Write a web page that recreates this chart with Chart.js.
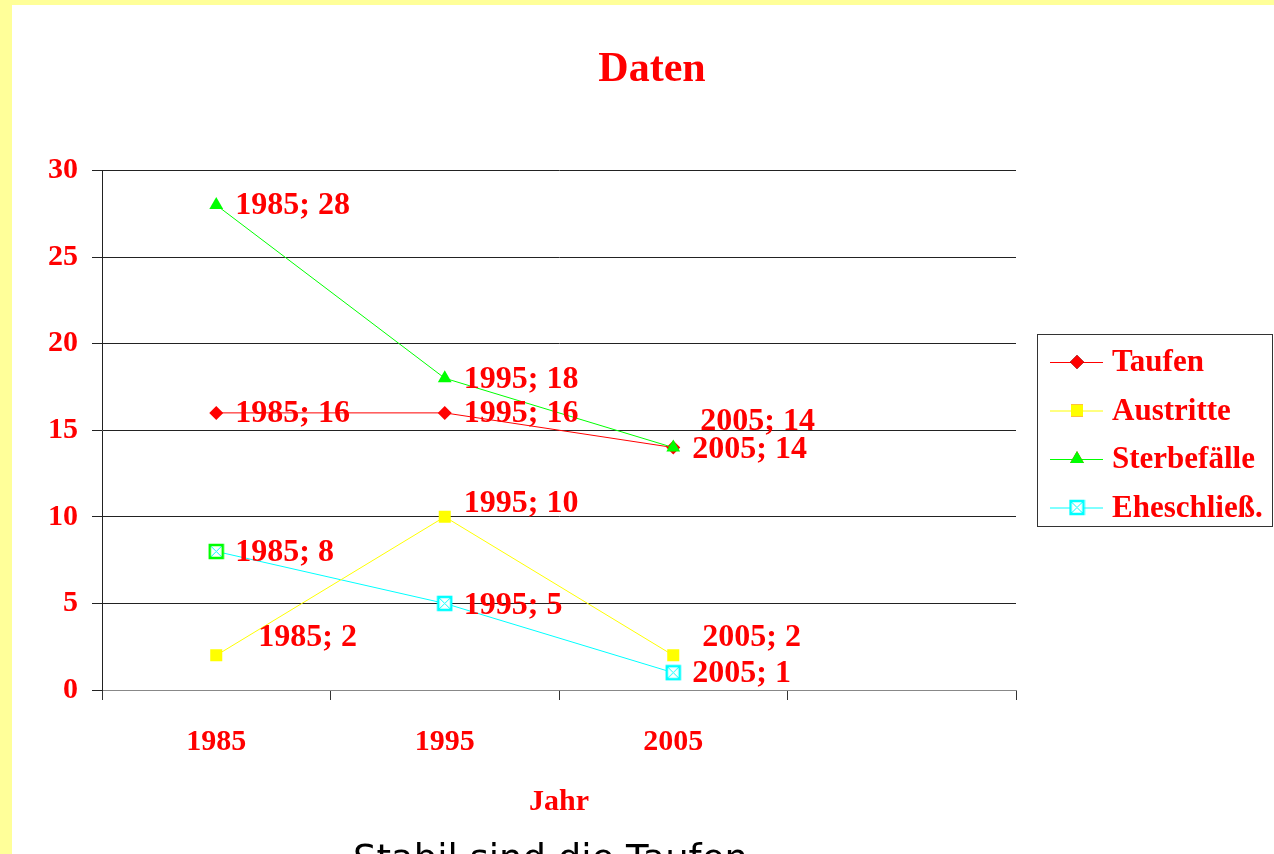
<!DOCTYPE html>
<html lang="de">
<head>
  <meta charset="UTF-8">
  <title>Daten</title>
  <script src="https://cdn.jsdelivr.net/npm/chart.js"></script>
  <style>
    html, body { margin: 0; padding: 0; }
    body { background: #FFFF99; width: 1274px; height: 854px; overflow: hidden; position: relative; }
    #sheet { position: absolute; left: 12px; top: 5px; width: 1262px; height: 849px; background: #fff; }
    #caption {
      position: absolute; left: 353px; top: 840px;
      font-family: 'DejaVu Sans', sans-serif; font-size: 37px; line-height: 37px;
      color: #000; white-space: nowrap;
    }
  </style>
</head>
<body>
  <div id="sheet"><canvas id="chart" width="1262" height="849"></canvas></div>
  <div id="caption">Stabil sind die Taufen</div>

  <script>
    // data
    const years = ['1985', '1995', '2005', ''];
    const taufen = [16, 16, 14];
    const austritte = [2, 10, 2];
    const sterbefaelle = [28, 18, 14];
    const eheschliessungen = [8, 5, 1];
    const yTicks = [0, 5, 10, 15, 20, 25, 30];

    const RED = '#FF0000';
    const serif = "'Liberation Serif', 'Times New Roman', serif";

    // boxed cross marker for Eheschließ.
    function boxMarker(border) {
      const c = document.createElement('canvas');
      c.width = 17; c.height = 17;
      const g = c.getContext('2d');
      g.fillStyle = '#fff';
      g.fillRect(1, 1, 15, 15);
      g.strokeStyle = '#00FFFF';
      g.lineWidth = 1;
      g.beginPath();
      g.moveTo(3, 3); g.lineTo(14, 14);
      g.moveTo(14, 3); g.lineTo(3, 14);
      g.stroke();
      g.strokeStyle = border;
      g.lineWidth = 2.5;
      g.strokeRect(2, 2, 13, 13);
      return c;
    }
    const cyanBox = boxMarker('#00FFFF');
    const greenBox = boxMarker('#00FF00');

    // data labels "Jahr; Wert"
    const valueLabels = {
      id: 'valueLabels',
      afterDatasetsDraw(chart) {
        const ctx = chart.ctx;
        ctx.save();
        ctx.font = 'bold 32px ' + serif;
        ctx.fillStyle = RED;
        ctx.textAlign = 'left';
        ctx.textBaseline = 'middle';
        chart.data.datasets.forEach((ds, i) => {
          const meta = chart.getDatasetMeta(i);
          meta.data.forEach((pt, j) => {
            const shift = (ds.labelShift && ds.labelShift[j]) || [19, 1];
            ctx.fillText(chart.data.labels[j] + '; ' + ds.data[j], pt.x + shift[0], pt.y + shift[1]);
          });
        });
        ctx.restore();
      }
    };

    // boxed legend on the right
    const sideLegend = {
      id: 'sideLegend',
      afterDraw(chart) {
        const ctx = chart.ctx;
        const x0 = 1025, y0 = 329, w = 235, h = 192;
        ctx.save();
        ctx.strokeStyle = '#333';
        ctx.lineWidth = 1;
        ctx.strokeRect(x0 + 0.5, y0 + 0.5, w, h);
        ctx.font = 'bold 31px ' + serif;
        ctx.textAlign = 'left';
        ctx.textBaseline = 'middle';
        chart.data.datasets.forEach((ds, i) => {
          const y = y0 + 28 + i * 48.5;
          ctx.strokeStyle = ds.borderColor;
          ctx.lineWidth = 1;
          ctx.beginPath();
          ctx.moveTo(x0 + 13, y + 0.5);
          ctx.lineTo(x0 + 66, y + 0.5);
          ctx.stroke();
          const style = Array.isArray(ds.pointStyle) ? ds.pointStyle[ds.pointStyle.length - 1] : ds.pointStyle;
          Chart.helpers.drawPoint(ctx, {
            pointStyle: style,
            radius: ds.pointRadius,
            rotation: 0,
            borderWidth: 0
          }, x0 + 40, y);
          ctx.fillStyle = ds.pointBackgroundColor;
          ctx.fill();
          ctx.fillStyle = RED;
          ctx.fillText(ds.label, x0 + 75, y + 1);
        });
        ctx.restore();
      }
    };

    const datasets = [
      {
        label: 'Taufen', data: taufen,
        borderColor: RED, pointBackgroundColor: RED, pointBorderColor: RED,
        pointStyle: 'rectRot', pointRadius: 7, pointBorderWidth: 0,
        labelShift: [[19, 1], [19, 1], [27, -26]]
      },
      {
        label: 'Austritte', data: austritte,
        borderColor: '#FFFF00', pointBackgroundColor: '#FFFF00', pointBorderColor: '#FFFF00',
        pointStyle: 'rect', pointRadius: 8.5, pointBorderWidth: 0,
        labelShift: [[42, -18], [19, -13], [29, -18]]
      },
      {
        label: 'Sterbefälle', data: sterbefaelle, order: -1,
        borderColor: '#00FF00', pointBackgroundColor: '#00FF00', pointBorderColor: '#00FF00',
        pointStyle: 'triangle', pointRadius: 8, pointBorderWidth: 0,
        labelShift: [[19, 1], [19, 1], [19, 2]]
      },
      {
        label: 'Eheschließ.', data: eheschliessungen,
        borderColor: '#00FFFF', pointBackgroundColor: '#00FFFF', pointBorderColor: '#00FFFF',
        pointStyle: [greenBox, cyanBox, cyanBox], pointRadius: 8, pointBorderWidth: 0,
        labelShift: [[19, 1], [19, 2], [19, 1]]
      }
    ];

    new Chart(document.getElementById('chart'), {
      type: 'line',
      data: { labels: years, datasets: datasets.map(d => Object.assign({ borderWidth: 1, tension: 0, fill: false }, d)) },
      options: {
        responsive: false,
        animation: false,
        events: [],
        layout: { padding: { left: 18, right: 0, top: 0, bottom: 34 } },
        plugins: {
          legend: { display: false },
          tooltip: { enabled: false },
          title: {
            display: true, text: 'Daten', color: RED,
            font: { family: serif, size: 42, weight: 'bold', lineHeight: 1.2 },
            padding: { top: 40, bottom: 75 }
          }
        },
        scales: {
          x: {
            type: 'category', offset: true,
            grid: { display: true, drawOnChartArea: false, offset: true, tickLength: 10, color: '#333' },
            border: { color: '#888', width: 1 },
            ticks: { color: RED, padding: 24, maxRotation: 0, font: { family: serif, size: 30, weight: 'bold', lineHeight: 1.2 } },
            title: {
              display: true, text: 'Jahr', color: RED,
              font: { family: serif, size: 30, weight: 'bold', lineHeight: 1.2 },
              padding: { top: 0, bottom: 0 }
            }
          },
          y: {
            min: 0, max: 30,
            afterBuildTicks(scale) { scale.ticks = yTicks.map(v => ({ value: v })); },
            afterFit(scale) { scale.width = 72; },
            grid: { color: '#222', tickLength: 10 },
            border: { color: '#222', width: 1 },
            ticks: { color: RED, padding: 14, font: { family: serif, size: 30, weight: 'bold', lineHeight: 1.2 } }
          },
          // empty space on the right for the legend box
          spacer: {
            axis: 'y', position: 'right', min: 0, max: 30,
            afterFit(scale) { scale.width = 258; },
            grid: { display: false },
            border: { display: false },
            ticks: { display: false }
          }
        }
      },
      plugins: [valueLabels, sideLegend]
    });
  </script>
</body>
</html>
